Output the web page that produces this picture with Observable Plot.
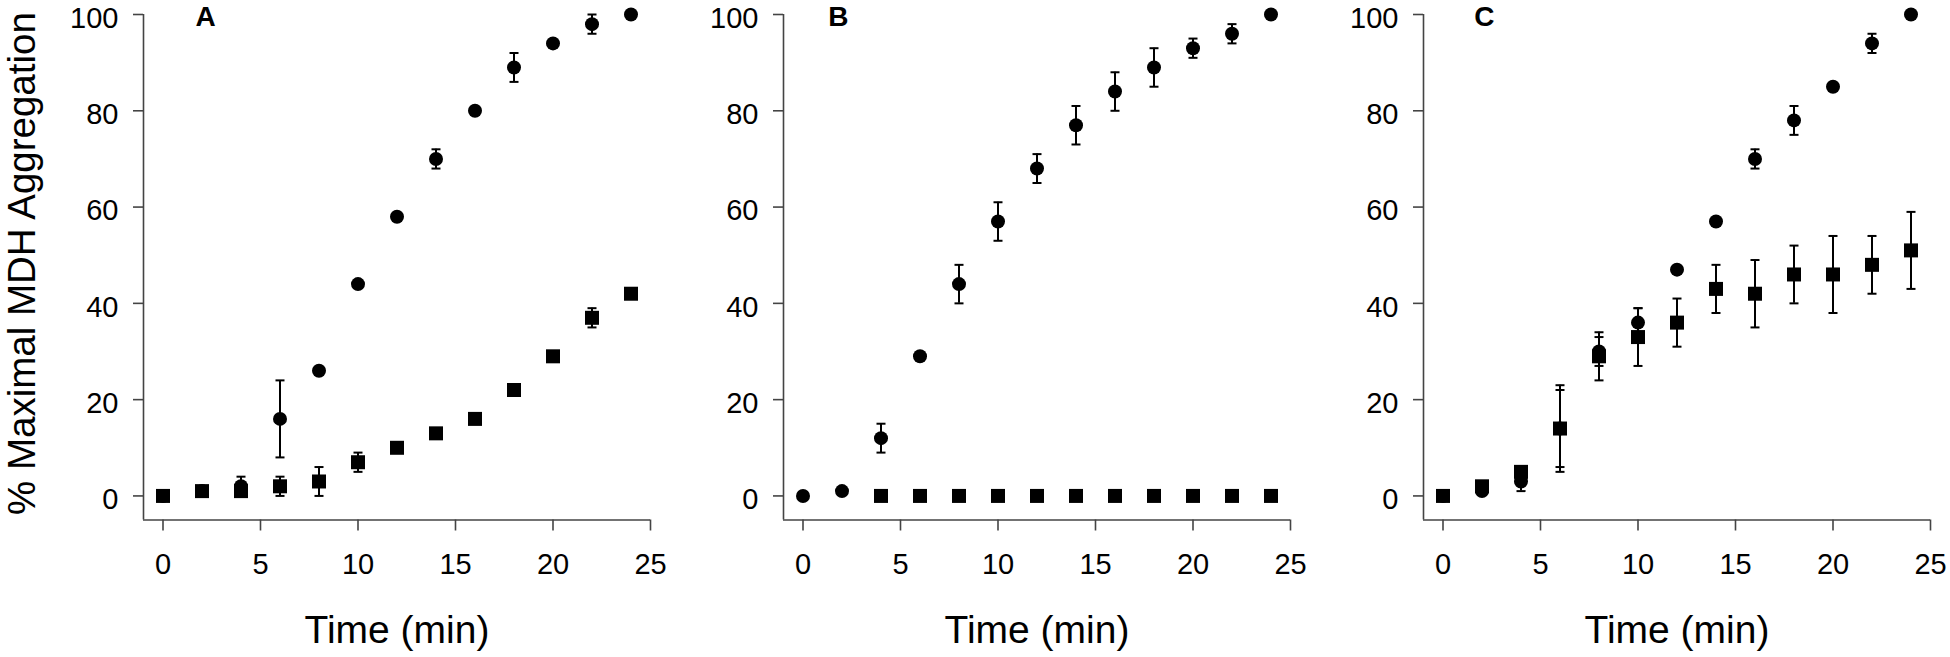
<!DOCTYPE html>
<html>
<head>
<meta charset="utf-8">
<script src="https://cdn.jsdelivr.net/npm/d3@7"></script>
<script src="https://cdn.jsdelivr.net/npm/@observablehq/plot@0.6"></script>
<style>
  body { margin: 0; background: #fff; }
  #wrap { position: relative; width: 1950px; height: 657px; overflow: hidden; background: #fff; }
  #wrap svg { position: absolute; top: 0; }
</style>
</head>
<body>
<div id="wrap"></div>
<script>
// ---- data ----
const times = [0, 2, 4, 6, 8, 10, 12, 14, 16, 18, 20, 22, 24];
const xTicks = [0, 5, 10, 15, 20, 25];
const yTicks = [0, 20, 40, 60, 80, 100];
const panelLetters = ["A", "B", "C"];

// Panel A
const aCircle    = [0, 1, 2, 16, 26, 44, 58, 70, 80, 89, 94, 98, 100];
const aCircleErr = [0, 0, 2, 8, 0, 0, 0, 2, 0, 3, 0, 2, 0];
const aSquare    = [0, 1, 1, 2, 3, 7, 10, 13, 16, 22, 29, 37, 42];
const aSquareErr = [0, 0, 0, 2, 3, 2, 0, 0, 0, 0, 0, 2, 0];

// Panel B
const bCircle    = [0, 1, 12, 29, 44, 57, 68, 77, 84, 89, 93, 96, 100];
const bCircleErr = [0, 0, 3, 0, 4, 4, 3, 4, 4, 4, 2, 2, 0];
const bSquare    = [null, null, 0, 0, 0, 0, 0, 0, 0, 0, 0, 0, 0];
const bSquareErr = [0, 0, 0, 0, 0, 0, 0, 0, 0, 0, 0, 0, 0];

// Panel C
const cCircle    = [0, 1, 3, 14, 30, 36, 47, 57, 70, 78, 85, 94, 100];
const cCircleErr = [0, 0, 2, 8, 3, 3, 0, 0, 2, 3, 0, 2, 0];
const cSquare    = [0, 2, 5, 14, 29, 33, 36, 43, 42, 46, 46, 48, 51];
const cSquareErr = [0, 0, 0, 9, 5, 6, 5, 5, 7, 6, 8, 6, 8];

const yTitle = "% Maximal MDH Aggregation";
const xTitle = "Time (min)";

// ---- drawing ----
const FONT = "'Liberation Sans', Arial, Helvetica, sans-serif";
const AXIS = "#444";
const capSymbol = { draw(ctx) { ctx.moveTo(-4.5, 0); ctx.lineTo(4.5, 0); } };

function rows(vals, errs) {
  return times.map((t, i) => ({ t, v: vals[i], e: errs[i] })).filter(d => d.v != null);
}

function panel(letter, letterDx, letterDy, circ, circErr, sq, sqErr, showYTitle) {
  const C = rows(circ, circErr);
  const S = rows(sq, sqErr);
  const Ce = C.filter(d => d.e > 0);
  const Se = S.filter(d => d.e > 0);
  const errMarks = (E) => [
    Plot.ruleX(E, { x: "t", y1: d => d.v - d.e, y2: d => d.v + d.e, stroke: "black", strokeWidth: 2 }),
    Plot.dot(E, { x: "t", y: d => d.v + d.e, symbol: capSymbol, stroke: "black", strokeWidth: 2, fill: "none" }),
    Plot.dot(E, { x: "t", y: d => d.v - d.e, symbol: capSymbol, stroke: "black", strokeWidth: 2, fill: "none" })
  ];
  return Plot.plot({
    width: 670,
    height: 657,
    marginLeft: 143,
    marginRight: 20,
    marginTop: 14,
    marginBottom: 137.5,
    x: { domain: [-1, 25] },
    y: { domain: [-5, 100] },
    style: `background: transparent; overflow: visible; font-family: ${FONT}; color: black;`,
    marks: [
      Plot.ruleX([-1], { y1: -5, y2: 100, stroke: AXIS, strokeWidth: 1.6 }),
      Plot.ruleY([-5], { x1: -1, x2: 25, stroke: AXIS, strokeWidth: 1.6 }),
      // y tick marks
      Plot.axisY({ ticks: yTicks, tickSize: 10, stroke: AXIS, strokeWidth: 1.6, label: null, tickFormat: () => "" }),
      // y tick labels (nudged slightly down, as in the reference)
      Plot.axisY({ ticks: yTicks, tickSize: 0, tickPadding: 25, fontSize: 29, dy: 4, fill: "black", label: null, tickFormat: d => String(d) }),
      Plot.axisX({ ticks: xTicks, tickSize: 11, tickPadding: 22, fontSize: 29, stroke: AXIS, strokeWidth: 1.6, fill: "black", label: null, tickFormat: d => String(d) }),
      ...errMarks(Se),
      ...errMarks(Ce),
      Plot.dot(C, { x: "t", y: "v", r: 7, fill: "black", stroke: "none" }),
      Plot.dot(S, { x: "t", y: "v", r: 7.9, symbol: "square", fill: "black", stroke: "none" }),
      Plot.text([letter], { frameAnchor: "top-left", text: d => d, dx: letterDx, dy: letterDy, fontSize: 28, fontWeight: "bold", lineAnchor: "middle", fill: "black" }),
      Plot.text([xTitle], { frameAnchor: "bottom", text: d => d, dy: 110.5, fontSize: 39, lineAnchor: "middle", fill: "black" }),
      showYTitle ? Plot.text([yTitle], { frameAnchor: "left", text: d => d, rotate: -90, dx: -120.5, dy: -3.7, fontSize: 38.5, lineAnchor: "middle", textAnchor: "middle", fill: "black" }) : null
    ]
  });
}

const wrap = document.getElementById("wrap");
const specs = [
  [panelLetters[0], 52, 3, aCircle, aCircleErr, aSquare, aSquareErr, true, 0],
  [panelLetters[1], 44.8, 2.5, bCircle, bCircleErr, bSquare, bSquareErr, false, 640],
  [panelLetters[2], 50.7, 2.5, cCircle, cCircleErr, cSquare, cSquareErr, false, 1280]
];
for (const [L, dx, dy, c, ce, s, se, yt, left] of specs) {
  const svg = panel(L, dx, dy, c, ce, s, se, yt);
  svg.style.left = left + "px";
  wrap.appendChild(svg);
}
</script>
</body>
</html>
